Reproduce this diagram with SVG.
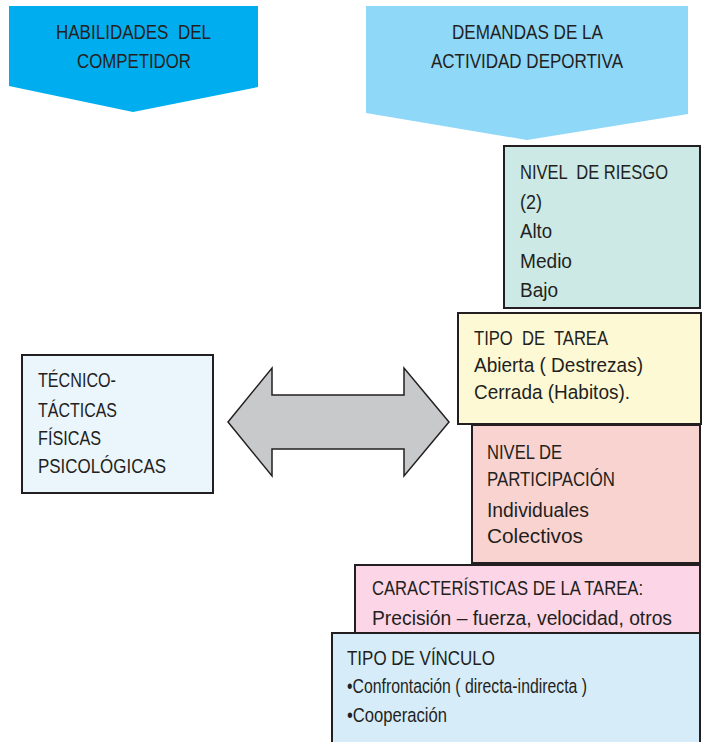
<svg xmlns="http://www.w3.org/2000/svg" width="705" height="742" viewBox="0 0 705 742">
<style>
text{font-family:"Liberation Sans",Arial,sans-serif;font-size:20.5px;fill:#231f20;white-space:pre}
.box{stroke:#231f20;stroke-width:2}
</style>
<rect width="705" height="742" fill="#ffffff"/>
<g id="banner-habilidades">
<polygon points="9,6 258,6 258,87 133,112 9,86" fill="#00aeef"/>
<text x="56" y="39" textLength="155" lengthAdjust="spacingAndGlyphs" xml:space="preserve">HABILIDADES  DEL</text>
<text x="77" y="68" textLength="114" lengthAdjust="spacingAndGlyphs">COMPETIDOR</text>
</g>
<g id="banner-demandas">
<polygon points="366,6 688,6 688,114 527,140 366,113" fill="#8fd8f8"/>
<text x="452" y="39" textLength="151" lengthAdjust="spacingAndGlyphs">DEMANDAS DE LA</text>
<text x="431" y="68" textLength="192" lengthAdjust="spacingAndGlyphs">ACTIVIDAD DEPORTIVA</text>
</g>
<g id="connectors">
<polygon points="228,422 272,368 272,395 404,395 404,368 449,422 404,476 404,449 272,449 272,476" fill="#c8c9cb" stroke="#231f20" stroke-width="1.5" stroke-linejoin="miter"/>
</g>
<g id="habilidades">
<rect class="box" x="22" y="355" width="191" height="138" fill="#eaf5fc"/>
<text x="38" y="387" textLength="78" lengthAdjust="spacingAndGlyphs">TÉCNICO-</text>
<text x="38" y="417" textLength="79" lengthAdjust="spacingAndGlyphs">TÁCTICAS</text>
<text x="38" y="445" textLength="63" lengthAdjust="spacingAndGlyphs">FÍSICAS</text>
<text x="38" y="473" textLength="128" lengthAdjust="spacingAndGlyphs">PSICOLÓGICAS</text>
</g>
<g id="nivel-riesgo">
<rect class="box" x="504" y="146" width="196" height="162" fill="#cce9e6"/>
<text x="520" y="179" textLength="148" lengthAdjust="spacingAndGlyphs" xml:space="preserve">NIVEL  DE RIESGO</text>
<text x="520" y="209" textLength="22" lengthAdjust="spacingAndGlyphs">(2)</text>
<text x="520" y="238" textLength="32" lengthAdjust="spacingAndGlyphs">Alto</text>
<text x="520" y="268" textLength="52" lengthAdjust="spacingAndGlyphs">Medio</text>
<text x="520" y="297" textLength="38" lengthAdjust="spacingAndGlyphs">Bajo</text>
</g>
<g id="tipo-tarea">
<rect class="box" x="458" y="313" width="243" height="111" fill="#fdf9d5"/>
<text x="474" y="345" textLength="134" lengthAdjust="spacingAndGlyphs" xml:space="preserve">TIPO  DE  TAREA</text>
<text x="474" y="372" textLength="169" lengthAdjust="spacingAndGlyphs">Abierta ( Destrezas)</text>
<text x="474" y="399" textLength="156" lengthAdjust="spacingAndGlyphs">Cerrada (Habitos).</text>
</g>
<g id="nivel-participacion">
<rect class="box" x="472" y="425" width="228" height="138" fill="#f9d3d0"/>
<text x="487" y="459" textLength="75" lengthAdjust="spacingAndGlyphs">NIVEL DE</text>
<text x="487" y="486" textLength="128" lengthAdjust="spacingAndGlyphs">PARTICIPACIÓN</text>
<text x="487" y="517" textLength="102" lengthAdjust="spacingAndGlyphs">Individuales</text>
<text x="487" y="543" textLength="96" lengthAdjust="spacingAndGlyphs">Colectivos</text>
</g>
<g id="caracteristicas">
<rect class="box" x="355" y="565" width="345" height="68" fill="#fcd5e6"/>
<text x="372" y="595" textLength="271" lengthAdjust="spacingAndGlyphs">CARACTERÍSTICAS DE LA TAREA:</text>
<text x="372" y="625" textLength="300" lengthAdjust="spacingAndGlyphs">Precisión – fuerza, velocidad, otros</text>
</g>
<g id="tipo-vinculo">
<rect class="box" x="332" y="633" width="368" height="120" fill="#d6ecf9"/>
<text x="347" y="665" textLength="148" lengthAdjust="spacingAndGlyphs">TIPO DE VÍNCULO</text>
<text x="347" y="693" textLength="240" lengthAdjust="spacingAndGlyphs">•Confrontación ( directa-indirecta )</text>
<text x="347" y="722" textLength="100" lengthAdjust="spacingAndGlyphs">•Cooperación</text>
</g>
</svg>
